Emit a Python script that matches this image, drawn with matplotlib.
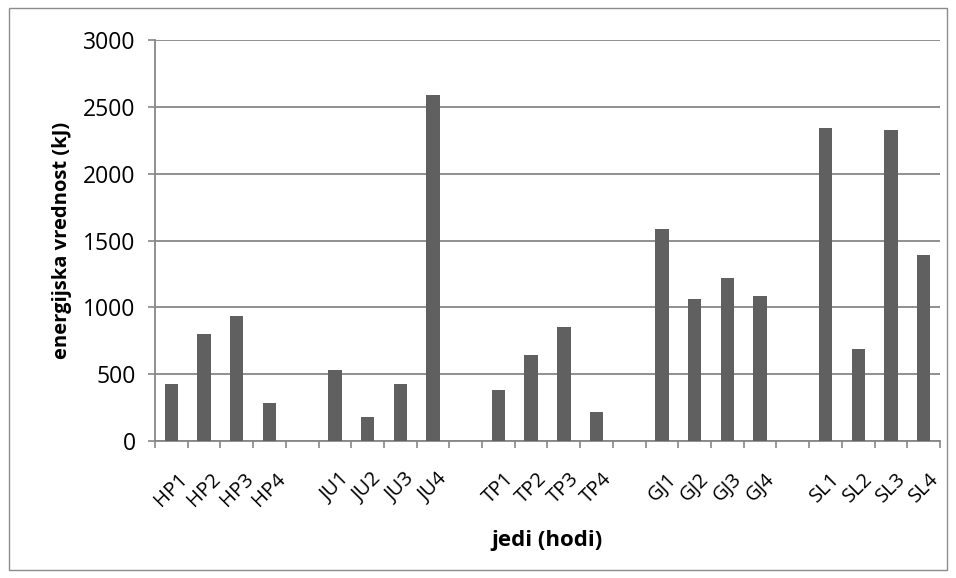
import matplotlib.pyplot as plt
from matplotlib.patches import Rectangle

# meals grouped in blocks of four, separated by empty slots
categories = ["HP1", "HP2", "HP3", "HP4", "",
              "JU1", "JU2", "JU3", "JU4", "",
              "TP1", "TP2", "TP3", "TP4", "",
              "GJ1", "GJ2", "GJ3", "GJ4", "",
              "SL1", "SL2", "SL3", "SL4"]
energy_kj = [425, 800, 933, 288, 0,
             528, 176, 425, 2590, 0,
             385, 640, 855, 217, 0,
             1583, 1062, 1216, 1083, 0,
             2342, 686, 2330, 1390]
y_ticks = [0, 500, 1000, 1500, 2000, 2500, 3000]

BAR_COLOR = "#606060"
GRID_COLOR = "#878787"
FONT = "Open Sans"

plt.rcParams["font.family"] = [FONT, "DejaVu Sans"]

fig = plt.figure(figsize=(9.56, 5.78), dpi=100)
W, H = 956, 578
ax = fig.add_axes([155 / W, 1 - 441 / H, (940 - 155) / W, (441 - 40) / H])

# outer chart frame
fig.patches.append(Rectangle((9 / W, 8 / H), (947 - 9) / W, (570 - 8) / H,
                             transform=fig.transFigure, fill=False,
                             edgecolor="#8c8c8c", linewidth=1.0))

x = list(range(len(categories)))
ax.bar(x, energy_kj, width=0.41, color=BAR_COLOR, zorder=3)

ax.set_xlim(-0.5, len(categories) - 0.5)
ax.set_ylim(0, 3000)
ax.set_yticks(y_ticks)
ax.set_yticklabels([str(v) for v in y_ticks], fontsize=16.5)
ax.yaxis.grid(True, color=GRID_COLOR, linewidth=1.3, zorder=0)
ax.set_axisbelow(True)

# category labels at slot centres, tick marks at slot boundaries
ax.set_xticks(x)
ax.set_xticklabels(categories, rotation=45, ha="center", va="top", fontsize=14.5)
ax.tick_params(axis="x", which="major", length=0, pad=20)
ax.set_xticks([i - 0.5 for i in range(len(categories) + 1)], minor=True)
ax.tick_params(axis="x", which="minor", length=5, width=1.2, color=GRID_COLOR)
ax.tick_params(axis="y", length=5, width=1.2, color=GRID_COLOR, pad=9)

for side in ("top", "right"):
    ax.spines[side].set_visible(False)
for side in ("left", "bottom"):
    ax.spines[side].set_color(GRID_COLOR)
    ax.spines[side].set_linewidth(1.3)

ax.set_ylabel("energijska vrednost (kJ)", fontsize=14.5, fontweight="bold", labelpad=8)
ax.set_xlabel("jedi (hodi)", fontsize=16, fontweight="bold", labelpad=14)

fig.savefig("out.png", dpi=100)
